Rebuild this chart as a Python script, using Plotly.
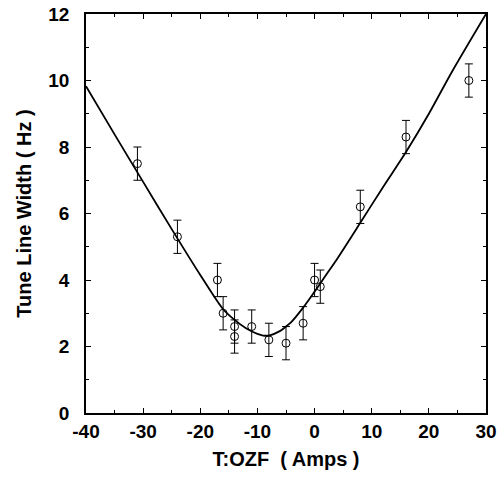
import plotly.graph_objects as go

# Measured points
current = [-31, -24, -17, -16, -14, -14, -11, -8, -5, -2, 0, 1, 8, 16, 27]
width = [7.5, 5.3, 4.0, 3.0, 2.6, 2.3, 2.6, 2.2, 2.1, 2.7, 4.0, 3.8, 6.2, 8.3, 10.0]
width_err = [0.5] * 15

# Fitted curve
fit_x = [-40, -35, -30, -25, -20, -16, -14, -12, -10, -9, -8, -6, -5, -4, -2, 0, 2, 4, 8, 12, 16, 20, 24, 30]
fit_y = [9.83, 8.38, 6.95, 5.53, 4.15, 3.12, 2.8, 2.55, 2.38, 2.33, 2.33, 2.47, 2.6, 2.75, 3.17, 3.65, 4.15, 4.65, 5.72, 6.8, 7.85, 9.0, 10.25, 12.0]

x_ticks = [-40, -30, -20, -10, 0, 10, 20, 30]
y_ticks = [0, 2, 4, 6, 8, 10, 12]

fig = go.Figure()
fig.add_trace(go.Scatter(
    x=fit_x, y=fit_y, mode="lines", line=dict(color="black", width=1.8, shape="spline", smoothing=0.8),
    showlegend=False, hoverinfo="skip"))
fig.add_trace(go.Scatter(
    x=current, y=width, mode="markers",
    marker=dict(symbol="circle-open", size=8, color="black", line=dict(width=1)),
    error_y=dict(type="data", array=width_err, color="black", thickness=1, width=4),
    showlegend=False))

fam = "Liberation Sans, Arial, sans-serif"
title_font = dict(family=fam, size=20, color="black")
axis_common = dict(
    showgrid=False, zeroline=False, showline=True, linecolor="black", linewidth=1.5,
    mirror="ticks", ticks="inside", ticklen=5, tickwidth=1, tickcolor="black",
    tickfont=dict(family=fam, size=19, color="black"),
    ticklabeloverflow="allow", automargin=False,
)
fig.update_xaxes(
    range=[-40, 30], tickvals=x_ticks, ticktext=["<b>%d</b>" % v for v in x_ticks],
    minor=dict(dtick=5, ticks="inside", ticklen=3, tickcolor="black"),
    title=dict(text="<b>T:OZF  ( Amps )</b>", font=title_font, standoff=11),
    ticklabelstandoff=0,
    **axis_common)
fig.update_yaxes(
    range=[0, 12], tickvals=y_ticks, ticktext=["<b>%d</b>" % v for v in y_ticks],
    minor=dict(dtick=1, ticks="inside", ticklen=3, tickcolor="black"),
    title=dict(text="<b>Tune Line Width ( Hz )</b>", font=title_font, standoff=11),
    ticklabelstandoff=11,
    **axis_common)
fig.update_layout(
    width=503, height=478,
    margin=dict(l=86, r=17, t=14, b=65),
    plot_bgcolor="white", paper_bgcolor="white",
    font=dict(family=fam, size=19, color="black"),
)
fig.write_html(
    "out.html",
    config={"displayModeBar": False},
    post_script="document.body.style.margin='0';document.body.style.overflow='hidden';",
)
